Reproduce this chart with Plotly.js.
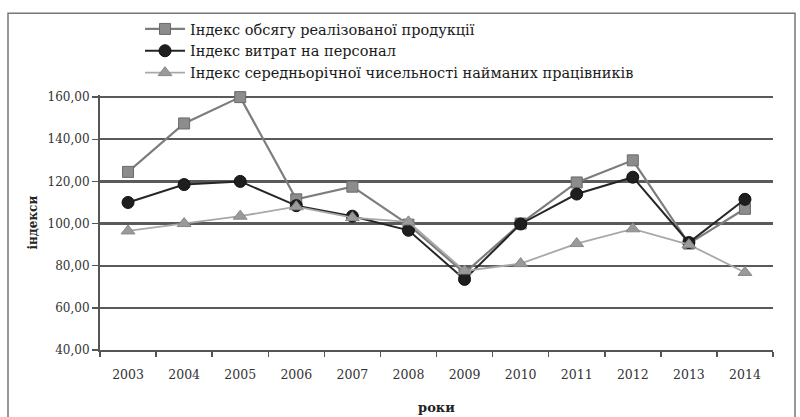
<!DOCTYPE html>
<html>
<head>
<meta charset="utf-8">
<script src="https://cdn.plot.ly/plotly-3.0.1.min.js"></script>
<style>html,body{margin:0;padding:0;background:#fff;}#chart{width:800px;height:417px;}</style>
</head>
<body>
<div id="chart"></div>
<script>
const years = ['2003','2004','2005','2006','2007','2008','2009','2010','2011','2012','2013','2014'];
const salesIndex = [124.5, 147.5, 160.0, 111.5, 117.5, 99.5, 76.5, 100.0, 119.5, 130.0, 90.5, 107.0];
const staffCostIndex = [110.0, 118.5, 120.0, 108.5, 103.5, 96.8, 73.5, 99.8, 114.0, 122.0, 91.0, 111.5];
const headcountIndex = [96.5, 100.0, 103.5, 108.0, 102.8, 100.8, 77.5, 81.0, 90.5, 97.5, 90.0, 76.8];
const seriesNames = [
  'Індекс обсягу реалізованої продукції',
  'Індекс витрат на персонал',
  'Індекс середньорічної чисельності найманих працівників'
];
const yTicks = [40, 60, 80, 100, 120, 140, 160];
const xTitle = 'роки';
const yTitle = 'індекси';

const serif = 'DejaVu Serif, Liberation Serif, serif';

const traces = [
  {x: years, y: salesIndex, name: seriesNames[0], type: 'scatter', mode: 'lines+markers', cliponaxis: false,
   line: {color: '#7d7d7d', width: 2.2},
   marker: {symbol: 'square', size: 11, color: '#8c8c8c', line: {color: '#6a6a6a', width: 1}}},
  {x: years, y: staffCostIndex, name: seriesNames[1], type: 'scatter', mode: 'lines+markers', cliponaxis: false,
   line: {color: '#262626', width: 2},
   marker: {symbol: 'circle', size: 12, color: '#1e1e1e', line: {color: '#111', width: 1}}},
  {x: years, y: headcountIndex, name: seriesNames[2], type: 'scatter', mode: 'lines+markers', cliponaxis: false,
   line: {color: '#a8a8a8', width: 1.8},
   marker: {symbol: 'triangle-up', size: 12, color: '#9a9a9a', line: {color: '#888', width: 1}}}
];

const layout = {
  width: 800, height: 417,
  margin: {l: 100, r: 27, t: 95, b: 67, autoexpand: false},
  paper_bgcolor: '#ffffff', plot_bgcolor: '#ffffff',
  separators: ', ',
  font: {family: serif, color: '#222'},
  showlegend: true,
  legend: {
    x: 140/800, xref: 'container', y: 1 - 13/417, yref: 'container', xanchor: 'left', yanchor: 'top',
    font: {family: serif, size: 14.5, color: '#1a1a1a'},
    bgcolor: 'rgba(0,0,0,0)', tracegroupgap: 0, itemwidth: 40
  },
  xaxis: {
    type: 'category', range: [-0.5, 11.5],
    showgrid: false, showline: true, linecolor: '#555', linewidth: 2,
    ticks: 'outside', ticklen: 5, tickcolor: '#555', tickwidth: 1.5,
    tickson: 'boundaries', tickangle: 0, ticklabelstandoff: 12,
    tickfont: {family: serif, size: 12.5, color: '#333'},
    title: {text: '<b>' + xTitle + '</b>', font: {family: serif, size: 13, color: '#222'}, standoff: 22},
    zeroline: false, fixedrange: true
  },
  yaxis: {
    range: [40, 161], tickvals: yTicks, tickformat: '.2f',
    showgrid: true, gridcolor: '#5a5a5a', gridwidth: 2.2,
    showline: true, linecolor: '#555', linewidth: 2,
    ticks: 'outside', ticklen: 6, tickcolor: '#555', tickwidth: 1.5,
    tickfont: {family: serif, size: 12, color: '#333'},
    zeroline: false, fixedrange: true
  },
  annotations: [
    {text: '<b>' + yTitle + '</b>', xref: 'paper', yref: 'paper', x: -0.101, y: 0.5,
     xanchor: 'center', yanchor: 'middle', textangle: -90, showarrow: false,
     font: {family: serif, size: 12, color: '#222'}}
  ],
  shapes: [
    {type: 'rect', xref: 'paper', yref: 'paper', x0: -0.1367, x1: 1.0327, y0: -0.5, y1: 1.321,
     line: {color: '#777', width: 1.5}, fillcolor: 'rgba(0,0,0,0)', layer: 'below'}
  ]
};

Plotly.newPlot('chart', traces, layout, {displayModeBar: false, staticPlot: true});
</script>
</body>
</html>
